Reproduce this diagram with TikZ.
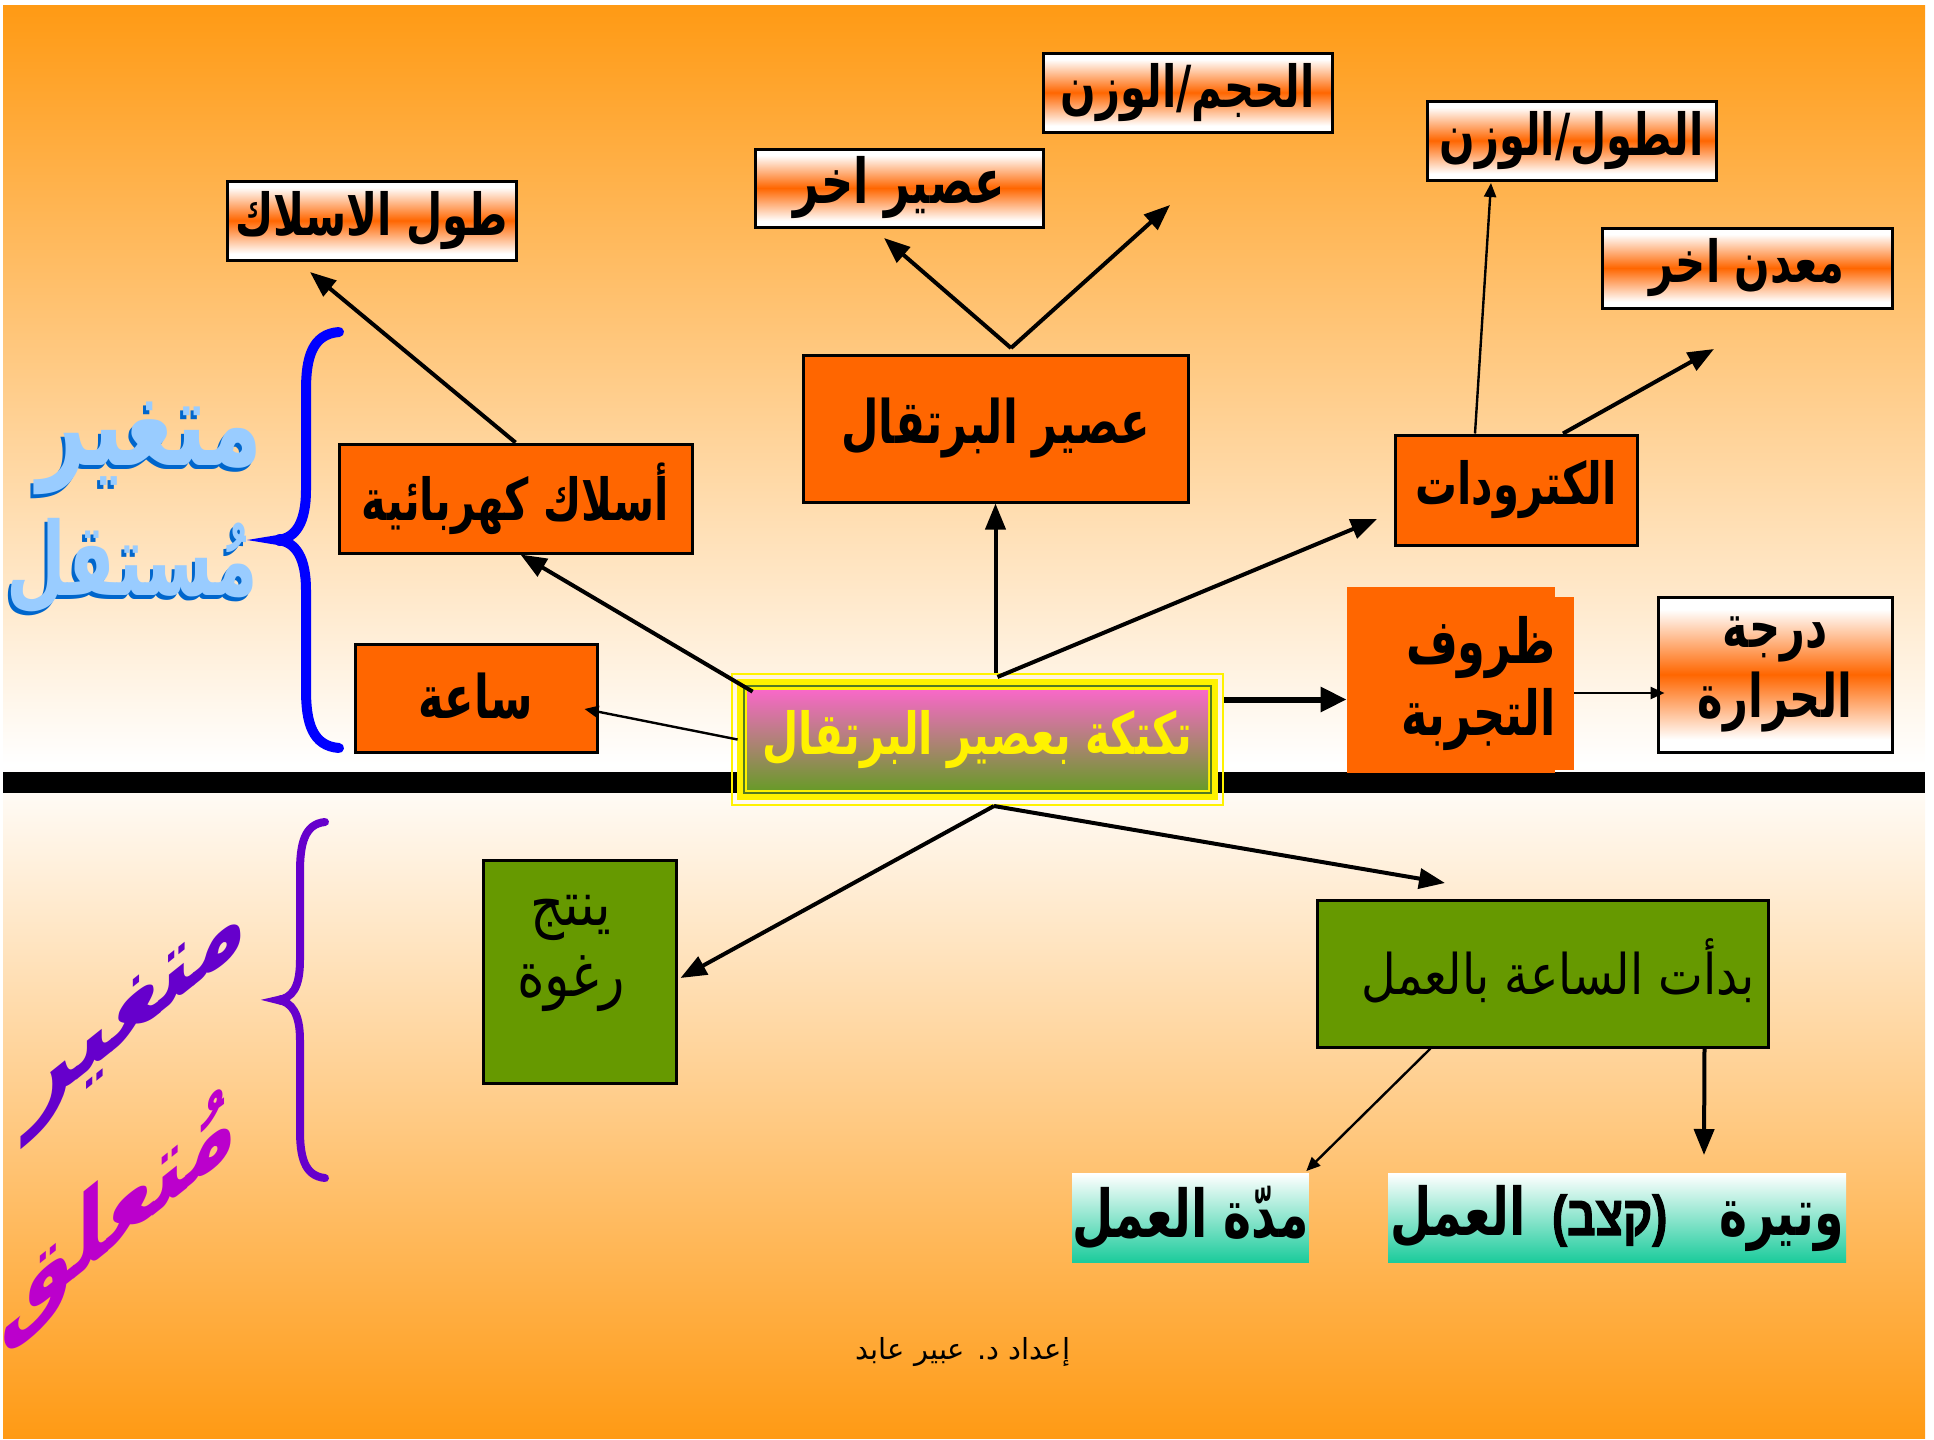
\documentclass[tikz,border=0pt]{standalone}
\usepackage{fontspec}
\usetikzlibrary{arrows.meta,calc}
\TeXXeTstate=1
\newfontfamily\arfont[Script=Arabic]{DejaVu Sans}
\newfontfamily\arbf[Script=Arabic,FakeStretch=0.72]{DejaVu Sans}
\newfontfamily\arrg[Script=Arabic,FakeStretch=0.85]{DejaVu Sans}
\newfontfamily\hefont[Script=Hebrew,FakeStretch=0.8,FakeBold=2]{Liberation Sans}
\definecolor{bgorange}{HTML}{FF9A14}
\definecolor{boxorange}{HTML}{FF6600}
\definecolor{leaf}{HTML}{669900}
\definecolor{tealg}{HTML}{1ACB9B}
\definecolor{pinkc}{HTML}{F868C8}
\definecolor{olivec}{HTML}{6A9A2A}
\definecolor{lblue}{HTML}{99CCFF}
\definecolor{dblue}{HTML}{0066CC}
\definecolor{purp}{HTML}{6600CC}
\definecolor{magen}{HTML}{BB00CC}
\pgfdeclareverticalshading{wow}{100bp}{color(0bp)=(white); color(29bp)=(white); color(50bp)=(boxorange); color(71bp)=(white); color(100bp)=(white)}
\newcommand{\shadowtxt}[3]{\rlap{\kern-1.5pt\raisebox{-2pt}{\textcolor{dblue}{\scalebox{#1}[#2]{\beginR #3\endR}}}}\scalebox{#1}[#2]{\beginR #3\endR}}
\begin{document}
\begin{tikzpicture}[x=0.5pt,y=-0.5pt,
  bfa/.style={font=\arbf\bfseries\fontsize{#1}{#1}\selectfont},
  gbox/.style={draw=black, line width=1.5pt, shading=wow, inner sep=0pt},
  obox/.style={draw=black, line width=1.5pt, fill=boxorange, inner sep=0pt},
  lbox/.style={draw=black, line width=1.5pt, fill=leaf, inner sep=0pt},
  tbox/.style={top color=white, bottom color=tealg, inner sep=0pt},
  bigword/.style={font=\arfont\bfseries\fontsize{40}{40}\selectfont},
  arr/.style={line width=2pt, -{Triangle[length=13pt,width=10pt]}},
  thinarr/.style={line width=1.2pt, -{Triangle[length=7pt,width=6pt]}}]
\useasboundingbox (0,0) rectangle (1934,1440);
% background
\shade[top color=bgorange, bottom color=white] (3,5) rectangle (1925,765);
\shade[top color=white, bottom color=bgorange] (3,765) rectangle (1925,1438);
\fill[black] (3,772) rectangle (1925,793);

% top gradient boxes
\node[gbox, bfa=29, minimum width=144.5pt, minimum height=39.5pt] (lenW) at (371.5,220.5) {\beginR طول الاسلاك\endR};
\node[gbox, bfa=31, minimum width=144pt, minimum height=39pt] (juiceO) at (899,188) {\beginR عصير اخر\endR};
\node[gbox, bfa=29, minimum width=144.5pt, minimum height=39.5pt] (volW) at (1187.5,92.5) {\beginR الحجم/الوزن\endR};
\node[gbox, bfa=29, minimum width=144.5pt, minimum height=39.5pt] (lenW2) at (1571.5,140.5) {\beginR الطول/الوزن\endR};
\node[gbox, bfa=29, minimum width=145pt, minimum height=40pt] (metal) at (1747,268) {\beginR معدن اخر\endR};

% orange boxes
\node[obox, bfa=29, minimum width=176.5pt, minimum height=54.5pt] (wires) at (515.5,498.5) {\beginR أسلاك كهربائية\endR};
\node[obox, bfa=30, minimum width=192.5pt, minimum height=73.5pt] (juice) at (995.5,428.5) {\raisebox{2pt}{\beginR عصير البرتقال\endR}};
\node[obox, bfa=29, minimum width=121pt, minimum height=55pt] (elec) at (1516,490) {\beginR الكترودات\endR};
\node[obox, bfa=30, minimum width=121pt, minimum height=54pt] (clock) at (476,698) {\raisebox{2pt}{\beginR ساعة\endR}};

% conditions box
\fill[boxorange] (1347,587) rectangle (1555,773);
\node[fill=boxorange, inner sep=0pt, minimum width=113.5pt, minimum height=86.5pt, align=right, text width=95pt, font=\arbf\bfseries\fontsize{31}{36}\selectfont] (cond) at (1460.5,683.5) {\beginR ظروف\endR\\\beginR التجربة\endR};
\node[gbox, minimum width=117pt, minimum height=77.5pt, align=center, font=\arbf\bfseries\fontsize{30}{35}\selectfont] (temp) at (1775,674.5) {\beginR درجة\endR\\\beginR الحرارة\endR};

% central box
\node[draw=yellow, line width=1pt, minimum width=245.5pt, minimum height=65.5pt, inner sep=0pt] (cframe) at (977.5,739.5) {};
\fill[yellow] (737,679) rectangle (1218,800);
\fill[olivec!80!black] (743,685) rectangle (1212,794);
\fill[yellow] (745,687) rectangle (1210,792);
\node[top color=pinkc, bottom color=olivec, minimum width=230.5pt, minimum height=49.5pt, inner sep=0pt, bfa=29, text=yellow] (c) at (977.5,739.5) {\raisebox{4pt}{\beginR تكتكة بعصير البرتقال\endR}};

% lower boxes
\node[lbox, minimum width=96.5pt, minimum height=111.5pt] (foam) at (579.5,971.5) {};
\node[align=center, font=\arrg\fontsize{31}{35.5}\selectfont] (foamtxt) at (571,953) {\beginR ينتج\endR\\\beginR رغوة\endR};
\node[lbox, minimum width=225.5pt, minimum height=73.5pt] (start) at (1542.5,973.5) {};
\node[anchor=east, font=\arrg\fontsize{28}{30}\selectfont] (starttxt) at (1762,971) {\beginR بدأت الساعة بالعمل\endR};
\node[tbox, bfa=33, minimum width=114.5pt, minimum height=44.5pt] (dur) at (1190.5,1218) {\beginR مدّة العمل\endR};
\node[tbox, bfa=33, minimum width=229pt, minimum height=44.5pt] (rate) at (1617,1218) {\beginR وتيرة\hspace{26pt}{\hefont\bfseries\fontsize{28}{28}\selectfont (קצב)}\hspace{5pt} العمل\endR};

% footer
\node[font=\arfont\fontsize{14.5}{16}\selectfont] (credit) at (963,1352) {\beginR إعداد د. عبير عابد\endR};

% braces
\draw[blue, line width=5pt, line cap=round] (339,332) .. controls (312,334) and (306,358) .. (306,390) -- (306,490) .. controls (306,522) and (296,538) .. (278,540) .. controls (296,542) and (306,558) .. (306,590) -- (306,690) .. controls (306,722) and (312,746) .. (339,748);
\fill[blue] (280,540) circle (6);
\draw[purp, line width=4pt, line cap=round] (325,822) .. controls (304,824) and (300,845) .. (300,872) -- (300,960) .. controls (300,988) and (292,998) .. (278,1000) .. controls (292,1002) and (300,1014) .. (300,1040) -- (300,1130) .. controls (300,1156) and (304,1176) .. (325,1178);
\fill[purp] (281,1000) circle (5);

% left labels: independent variable (light blue with dark blue shadow)
\node[bigword, text=lblue] (indepA) at (150,450) {\shadowtxt{1.07}{1.5}{متغير}};
\node[bigword, text=lblue] (indepB) at (132,568) {\shadowtxt{0.86}{1.27}{مُستقل}};

% dependent variable (slanted)
\begin{scope}[shift={(136,1018)}, yslant=0.8]
\node[transform shape, bigword, text=purp] (depA) at (0,0) {\scalebox{1.06}[1.3]{\beginR متغير\endR}};
\end{scope}
\begin{scope}[shift={(119,1216)}, yslant=0.8]
\node[transform shape, bigword, text=magen] (depB) at (0,0) {\scalebox{1.02}[1.3]{\beginR مُتعلق\endR}};
\end{scope}

% free arrow ends
\coordinate (tipA2) at (310,272);
\coordinate (apex) at (1011,348);
\coordinate (tipJL) at (884,238);
\coordinate (tipJR) at (1170,205);
\coordinate (tipE) at (1377,519);
\coordinate (tipF) at (1491,183);
\coordinate (tipG) at (1714,349);
\coordinate (tipK) at (1445,883);
\coordinate (tipM) at (1704,1155);
\coordinate (cbot) at ([shift={(16.5,0)}]cframe.south);

% connectors
\draw[arr] ([shift={(6,2)}]c.north west) -- ([shift={(5,0)}]wires.south);
\draw[arr] (wires.north) -- (tipA2);
\draw[thinarr] ([shift={(-9,0)}]c.west) -- ([shift={(-14,11)}]clock.east);
\draw[arr] (juice.south |- cframe.north) -- (juice.south);
\draw[arr] (apex) -- (tipJL);
\draw[arr] (apex) -- (tipJR);
\draw[arr] ([shift={(20,4)}]cframe.north) -- (tipE);
\draw[thinarr] ([shift={(-41,0)}]elec.north) -- (tipF);
\draw[arr] ([shift={(47,0)}]elec.north) -- (tipG);
\draw[line width=3pt, -{Triangle[length=13pt,width=12pt]}] ([shift={(0,-40)}]cframe.east) -- ([shift={(0,16)}]cond.west);
\draw[thinarr] ([shift={(0,9.5)}]cond.east) -- ([shift={(8,18.5)}]temp.west);
\draw[arr] (cbot) -- ([shift={(3,6.5)}]foam.east);
\draw[arr] (cbot) -- (tipK);
\draw[thinarr] ([shift={(-112,0)}]start.south) -- ([shift={(-3,-2)}]dur.north east);
\draw[arr] ([shift={(162,0)}]start.south) -- (tipM);
\end{tikzpicture}
\end{document}
